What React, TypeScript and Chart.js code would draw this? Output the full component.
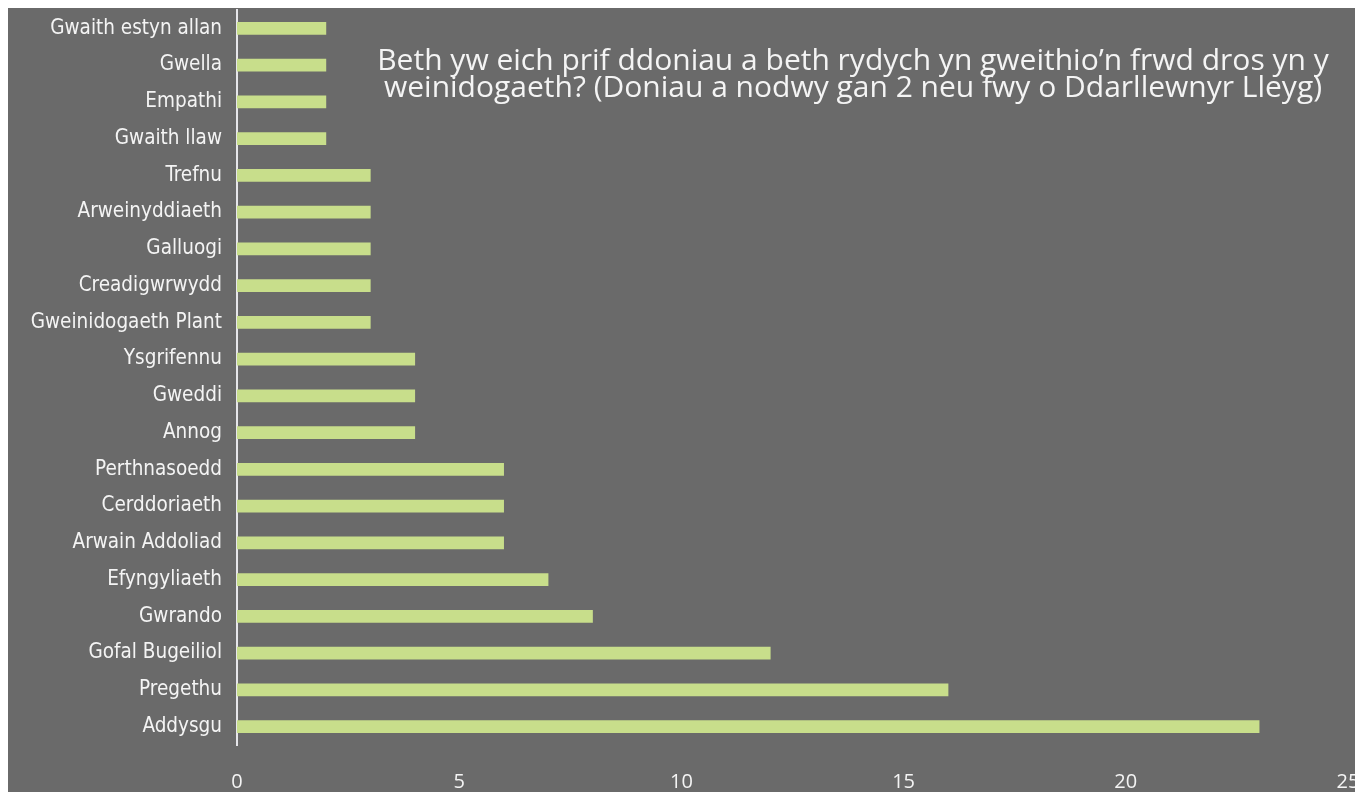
import React, { useEffect, useRef } from "react";
import { Chart, registerables } from "chart.js";

Chart.register(...registerables);

const categories = [
  "Gwaith estyn allan",
  "Gwella",
  "Empathi",
  "Gwaith llaw",
  "Trefnu",
  "Arweinyddiaeth",
  "Galluogi",
  "Creadigwrwydd",
  "Gweinidogaeth Plant",
  "Ysgrifennu",
  "Gweddi",
  "Annog",
  "Perthnasoedd",
  "Cerddoriaeth",
  "Arwain Addoliad",
  "Efyngyliaeth",
  "Gwrando",
  "Gofal Bugeiliol",
  "Pregethu",
  "Addysgu",
];

const counts = [2, 2, 2, 2, 3, 3, 3, 3, 3, 4, 4, 4, 6, 6, 6, 7, 8, 12, 16, 23];

const xTicks = [0, 5, 10, 15, 20, 25];

const titleLines = [
  "Beth yw eich prif ddoniau a beth rydych yn gweithio\u2019n frwd dros yn y",
  "weinidogaeth? (Doniau a nodwy gan 2 neu fwy o Ddarllewnyr Lleyg)",
];

const BG = "#6a6a6a";

export default function App() {
  const ref = useRef<HTMLCanvasElement | null>(null);

  useEffect(() => {
    document.body.style.overflow = "hidden";
    const canvas = ref.current;
    if (!canvas) return;

    const bgPlugin = {
      id: "bg",
      beforeDraw(chart: any) {
        const ctx = chart.ctx;
        ctx.save();
        ctx.fillStyle = BG;
        ctx.fillRect(0, 0, chart.width, chart.height);
        ctx.restore();
      },
    };

    const titlePlugin = {
      id: "insideTitle",
      afterDraw(chart: any) {
        const ctx = chart.ctx;
        ctx.save();
        ctx.fillStyle = "#f4f4f4";
        ctx.font = "30px 'Open Sans'";
        ctx.textAlign = "center";
        ctx.textBaseline = "alphabetic";
        ctx.fillText(titleLines[0], 845, 62);
        ctx.fillText(titleLines[1], 845, 89);
        ctx.restore();
      },
    };

    const chart = new Chart(canvas, {
      type: "bar",
      data: {
        labels: categories,
        datasets: [
          {
            data: counts,
            backgroundColor: "#c8de8b",
            borderWidth: 0,
            barThickness: 12,
          },
        ],
      },
      options: {
        indexAxis: "y",
        animation: false,
        responsive: false,
        maintainAspectRatio: false,
        layout: { padding: { top: 2, right: 15, left: 0, bottom: 0 } },
        plugins: {
          legend: { display: false },
          title: { display: false },
          tooltip: { enabled: false },
        },
        scales: {
          x: {
            min: 0,
            max: 25,
            afterBuildTicks(scale: any) {
              scale.ticks = xTicks.map((v) => ({ value: v }));
            },
            afterFit(scale: any) {
              scale.height = 47;
              scale.paddingLeft = 0;
              scale.paddingRight = 0;
            },
            grid: { display: false },
            border: { display: false },
            ticks: {
              color: "#f4f4f4",
              padding: 17,
              font: { family: "'Open Sans'", size: 20 },
            },
          },
          y: {
            afterFit(scale: any) {
              scale.width = 229;
              scale.paddingTop = 0;
              scale.paddingBottom = 0;
            },
            grid: { display: false, drawTicks: false },
            border: { display: true, color: "#e6e6ea", width: 2 },
            ticks: {
              color: "#f4f4f4",
              padding: 15,
              font: { family: "'DejaVu Sans Condensed'", size: 20.5 },
            },
          },
        },
      },
      plugins: [bgPlugin, titlePlugin],
    });

    return () => chart.destroy();
  }, []);

  return (
    <div style={{ width: 1355, height: 784 }}>
      <canvas ref={ref} width={1355} height={784} style={{ display: "block" }} />
    </div>
  );
}
